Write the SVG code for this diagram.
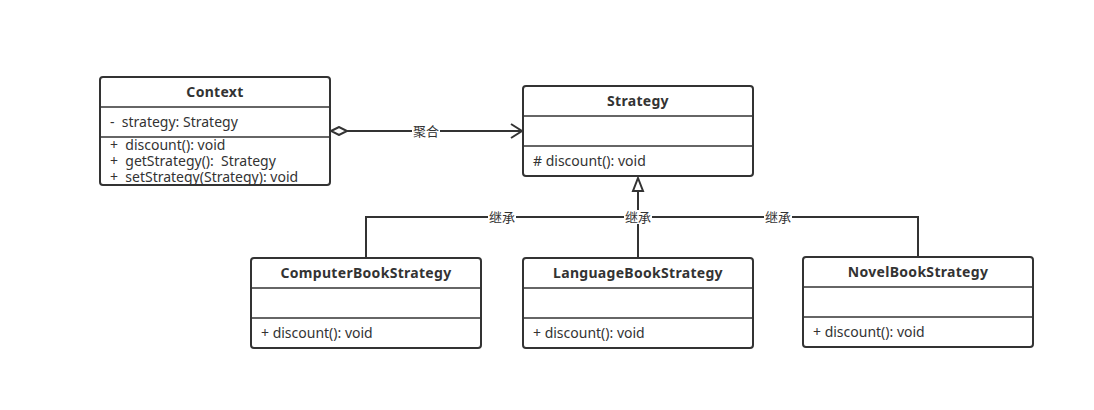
<svg xmlns="http://www.w3.org/2000/svg" width="1094" height="410" viewBox="0 0 1094 410">
<style>
.box{fill:#fff;stroke:#333;stroke-width:2}
.div{stroke:#333;stroke-width:1.5}
.t{font-family:"Noto Sans","Noto Sans CJK SC",sans-serif;font-size:14px;fill:#333}
.h{font-weight:bold;text-anchor:middle;letter-spacing:0.3px}
.ln{fill:none;stroke:#333;stroke-width:2}
.lbl{font-family:"Noto Sans CJK SC","Noto Sans",sans-serif;font-size:13px;fill:#333;text-anchor:middle}
.bg{fill:#fff}
</style>
<defs>
<marker id="open" markerWidth="14" markerHeight="16" refX="12" refY="8" orient="auto" markerUnits="userSpaceOnUse">
<path d="M1,1 L12,8 L1,15" fill="none" stroke="#333" stroke-width="2"/>
</marker>
<marker id="diamond" markerWidth="20" markerHeight="10" refX="1" refY="5" orient="auto" markerUnits="userSpaceOnUse">
<path d="M1,5 L9,1 L17,5 L9,9 Z" fill="#fff" stroke="#333" stroke-width="2"/>
</marker>
</defs>
<rect width="1094" height="410" fill="#fff"/>
<g id="connectors">
<path class="ln" d="M331,131 L522,131" marker-start="url(#diamond)" marker-end="url(#open)"/>
<rect class="bg" x="412" y="124" width="28" height="14"/>
<text class="lbl" x="426" y="136">聚合</text>
<path class="ln" d="M366,258 V217 H638"/>
<path class="ln" d="M918,257 V217 H638"/>
<path class="ln" d="M638,258 V191"/>
<path d="M638,178 L643,191 L633,191 Z" fill="#fff" stroke="#333" stroke-width="2"/>
<rect class="bg" x="488" y="210" width="28" height="14"/>
<text class="lbl" x="502" y="222">继承</text>
<rect class="bg" x="624" y="210" width="28" height="14"/>
<text class="lbl" x="638" y="222">继承</text>
<rect class="bg" x="764" y="210" width="28" height="14"/>
<text class="lbl" x="778" y="222">继承</text>
</g>
<g id="Context">
<rect class="box" x="100" y="77" width="230" height="108" rx="3"/>
<line class="div" x1="100" y1="107" x2="330" y2="107"/>
<line class="div" x1="100" y1="137" x2="330" y2="137"/>
<text class="t h" x="215" y="97">Context</text>
<text class="t" x="110" y="127" xml:space="preserve">-  strategy: Strategy</text>
<text class="t" x="110" y="150" xml:space="preserve">+  discount(): void</text>
<text class="t" x="110" y="166" xml:space="preserve">+  getStrategy():  Strategy</text>
<text class="t" x="110" y="182" xml:space="preserve">+  setStrategy(Strategy): void</text>
</g>
<g id="Strategy">
<rect class="box" x="523" y="86" width="230" height="90" rx="3"/>
<line class="div" x1="523" y1="116" x2="753" y2="116"/>
<line class="div" x1="523" y1="146" x2="753" y2="146"/>
<text class="t h" x="638" y="106">Strategy</text>
<text class="t" x="533" y="166"># discount(): void</text>
</g>
<g id="ComputerBookStrategy">
<rect class="box" x="251" y="258" width="230" height="90" rx="3"/>
<line class="div" x1="251" y1="288" x2="481" y2="288"/>
<line class="div" x1="251" y1="318" x2="481" y2="318"/>
<text class="t h" x="366" y="278">ComputerBookStrategy</text>
<text class="t" x="261" y="338">+ discount(): void</text>
</g>
<g id="LanguageBookStrategy">
<rect class="box" x="523" y="258" width="230" height="90" rx="3"/>
<line class="div" x1="523" y1="288" x2="753" y2="288"/>
<line class="div" x1="523" y1="318" x2="753" y2="318"/>
<text class="t h" x="638" y="278">LanguageBookStrategy</text>
<text class="t" x="533" y="338">+ discount(): void</text>
</g>
<g id="NovelBookStrategy">
<rect class="box" x="803" y="257" width="230" height="90" rx="3"/>
<line class="div" x1="803" y1="287" x2="1033" y2="287"/>
<line class="div" x1="803" y1="317" x2="1033" y2="317"/>
<text class="t h" x="918" y="277">NovelBookStrategy</text>
<text class="t" x="813" y="337">+ discount(): void</text>
</g>
</svg>
